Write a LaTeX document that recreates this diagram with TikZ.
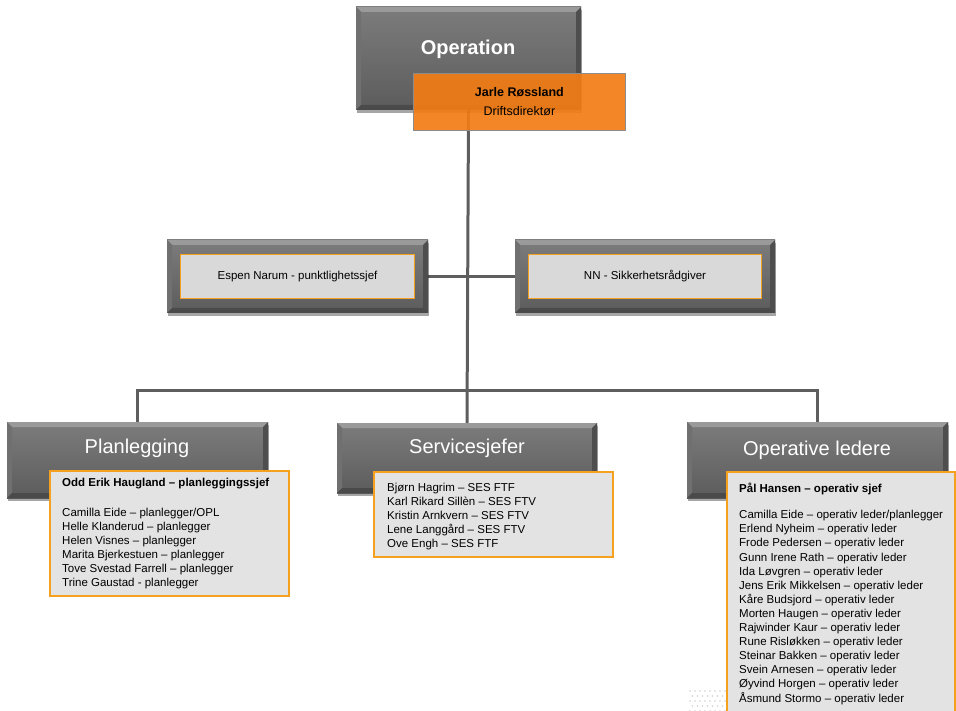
\documentclass[tikz,border=0pt]{standalone}
\usepackage{fontspec}
\setmainfont{Liberation Sans}
\usetikzlibrary{shadows,backgrounds}

\definecolor{faceTop}{HTML}{7C7C7C}
\definecolor{faceBot}{HTML}{5C5C5C}
\definecolor{bevLight}{HTML}{9A9A9A}
\definecolor{bevSide}{HTML}{707070}
\definecolor{bevDark}{HTML}{4A4A4A}
\definecolor{lineGrey}{HTML}{5E5E5E}
\definecolor{orangeEdge}{HTML}{F5A01E}
\definecolor{orangeFill}{HTML}{F27C14}
\definecolor{paleFill}{HTML}{E3E3E3}
\definecolor{innerFill}{HTML}{D9D9D9}

\tikzset{
  bevelbox/.style={
    anchor=north west, inner sep=0pt, outer sep=0pt,
    top color=faceTop, bottom color=faceBot, draw=none,
    drop shadow={shadow xshift=1pt, shadow yshift=-3pt, opacity=0.35, fill=black},
    path picture={
      \fill[bevLight] (path picture bounding box.north west) -- (path picture bounding box.north east)
        -- ([shift={(-5pt,-5pt)}]path picture bounding box.north east)
        -- ([shift={(5pt,-5pt)}]path picture bounding box.north west) -- cycle;
      \fill[bevSide] (path picture bounding box.north west) -- ([shift={(5pt,-5pt)}]path picture bounding box.north west)
        -- ([shift={(5pt,5pt)}]path picture bounding box.south west) -- (path picture bounding box.south west) -- cycle;
      \fill[bevDark!80!faceBot] (path picture bounding box.north east) -- ([shift={(-5pt,-5pt)}]path picture bounding box.north east)
        -- ([shift={(-5pt,5pt)}]path picture bounding box.south east) -- (path picture bounding box.south east) -- cycle;
      \fill[bevDark] (path picture bounding box.south west) -- ([shift={(5pt,5pt)}]path picture bounding box.south west)
        -- ([shift={(-5pt,5pt)}]path picture bounding box.south east) -- (path picture bounding box.south east) -- cycle;
    }},
  boxtitle/.style={text=white, font=\fontsize{20}{24}\selectfont, inner sep=0pt},
  innerbox/.style={fill=innerFill, draw=orangeEdge, line width=1.1pt, inner sep=0pt,
    font=\fontsize{11.5}{14}\selectfont},
  listbox/.style={anchor=north west, fill=paleFill, draw=orangeEdge, line width=1.4pt, inner sep=0pt, outer sep=0pt},
  listtext/.style={anchor=north west, align=left, inner sep=0pt,
    font=\fontsize{11.5}{14.1}\selectfont},
  link/.style={draw=lineGrey, line width=3pt},
}

\begin{document}
\begin{tikzpicture}[x=1pt, y=-1pt]
\useasboundingbox (0,0) rectangle (956,711);

% faint dot pattern behind the last list
\foreach \r in {0,...,4}{
  \foreach \c in {0,...,7}{
    \fill[black!18] ({690+\c*5+mod(\r,2)*2.5},{691+\r*5}) circle (0.8);
  }
}

% top of the chart
\node[bevelbox, minimum width=225pt, minimum height=103pt] (op) at (356,7) {};
\node[text=white, font=\bfseries\fontsize{20}{24}\selectfont, inner sep=0pt] (opt) at (468,49) {Operation};
\node[anchor=north west, minimum width=212pt, minimum height=57pt, inner sep=0pt,
      fill=orangeFill, fill opacity=0.92, draw=black!45, line width=0.8pt,
      text opacity=1, align=center, font=\fontsize{12.5}{19}\selectfont] (jarle) at (413,73)
      {\textbf{Jarle Røssland}\\Driftsdirektør};

% staff functions
\node[bevelbox, minimum width=261pt, minimum height=73pt] (espen) at (167,240) {};
\node[innerbox, minimum width=234pt, minimum height=44pt] (espeni) at (espen.center) {Espen Narum - punktlighetssjef};
\node[bevelbox, minimum width=260pt, minimum height=73pt] (nn) at (515,240) {};
\node[innerbox, minimum width=233pt, minimum height=44pt] (nni) at (nn.center) {NN - Sikkerhetsrådgiver};

% departments
\node[bevelbox, minimum width=261pt, minimum height=76pt] (plan) at (7,422) {};
\node[boxtitle] (plant) at (137,448) {Planlegging};
\node[bevelbox, minimum width=260pt, minimum height=70pt] (svc) at (337,423) {};
\node[boxtitle] (svct) at (467,448) {Servicesjefer};
\node[bevelbox, minimum width=261pt, minimum height=76pt] (ops) at (687,422) {};
\node[boxtitle] (opst) at (817,450) {Operative ledere};

% member lists
\node[listbox, minimum width=239pt, minimum height=125pt] (planl) at (50,471) {};
\node[listtext, font=\fontsize{11.5}{14}\selectfont] (planx) at (62,478)
  {\textbf{Odd Erik Haugland – planleggingssjef}\\[16pt]
   Camilla Eide – planlegger/OPL\\
   Helle Klanderud – planlegger\\
   Helen Visnes – planlegger\\
   Marita Bjerkestuen – planlegger\\
   Tove Svestad Farrell – planlegger\\
   Trine Gaustad - planlegger};

\node[listbox, minimum width=239pt, minimum height=85pt] (svcl) at (374,472) {};
\node[listtext] (svcx) at (387,483)
  {Bjørn Hagrim – SES FTF\\
   Karl Rikard Sillèn – SES FTV\\
   Kristin Arnkvern – SES FTV\\
   Lene Langgård – SES FTV\\
   Ove Engh – SES FTF};

\node[listbox, minimum width=228pt, minimum height=250pt] (opsl) at (727,472) {};
\node[listtext] (opsx) at (739,483)
  {\textbf{Pål Hansen – operativ sjef}\\[12pt]
   Camilla Eide – operativ leder/planlegger\\
   Erlend Nyheim – operativ leder\\
   Frode Pedersen – operativ leder\\
   Gunn Irene Rath – operativ leder\\
   Ida Løvgren – operativ leder\\
   Jens Erik Mikkelsen – operativ leder\\
   Kåre Budsjord – operativ leder\\
   Morten Haugen – operativ leder\\
   Rajwinder Kaur – operativ leder\\
   Rune Risløkken – operativ leder\\
   Steinar Bakken – operativ leder\\
   Svein Arnesen – operativ leder\\
   Øyvind Horgen – operativ leder\\
   Åsmund Stormo – operativ leder};

% connectors
\coordinate (hub) at (op.south |- 0,390);
\begin{scope}[on background layer]
  \draw[link] (op.south) -- (svc.north);
  \draw[link] (espen.east) -- (nn.west);
  \draw[link] (plan.north) |- (hub) -| (ops.north);
\end{scope}
\end{tikzpicture}
\end{document}
